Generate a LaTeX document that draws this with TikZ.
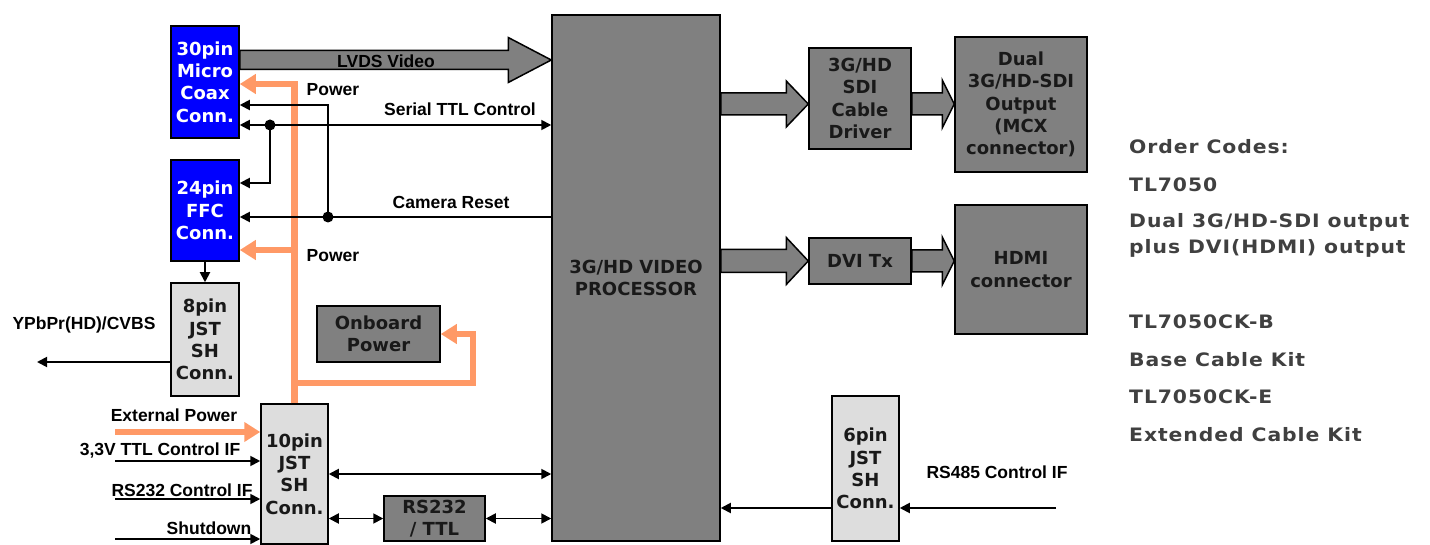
\documentclass[tikz,border=0pt]{standalone}
\usepackage{fontspec}
\setmainfont{DejaVu Sans}
\newfontfamily\labfont{Liberation Sans}
\usepackage{xcolor}
\definecolor{connblue}{HTML}{0000FF}
\definecolor{connlight}{HTML}{DDDDDD}
\definecolor{blockgrey}{HTML}{808080}
\definecolor{pwrorange}{HTML}{FF9966}
\definecolor{codegrey}{HTML}{404040}
\usepackage{tikz}
\usetikzlibrary{arrows.meta, calc, positioning}

% wide hollow arrow: from, to, body half height, head half height, head length
\newcommand{\fatarrow}[5]{%
  \draw[fat] let \p1=#1, \p2=#2 in
    (\x1,\y1+#3) -- (\x2-#5,\y1+#3) -- (\x2-#5,\y1+#4) -- (\x2,\y1)
    -- (\x2-#5,\y1-#4) -- (\x2-#5,\y1-#3) -- (\x1,\y1-#3) -- cycle;}

\begin{document}
\begin{tikzpicture}[x=1pt, y=-1pt,
    box/.style={draw=black, line width=1.5pt, inner sep=0pt, align=center,
                font=\bfseries\fontsize{18}{22.3}\selectfont},
    bluebox/.style={box, fill=connblue, text=white},
    lightbox/.style={box, fill=connlight, text=black!90},
    greybox/.style={box, fill=blockgrey, text=black!90},
    fat/.style={draw=black, line width=1.5pt, fill=blockgrey},
    sig/.style={draw=black, line width=1.8pt, -{Triangle[length=10pt,width=10pt]}},
    sigboth/.style={sig, {Triangle[length=10pt,width=10pt]}-{Triangle[length=10pt,width=10pt]}},
    pwrline/.style={draw=pwrorange, line width=6.5pt},
    pwr/.style={pwrline, -{Triangle[length=16pt,width=19pt]}},
    dot/.style={circle, fill=black, inner sep=0pt, minimum size=11pt},
    lab/.style={font=\labfont\bfseries\fontsize{17.5}{20}\selectfont},
    code/.style={anchor=west, text=codegrey, inner sep=0pt,
                 font=\bfseries\fontsize{18.5}{22}\selectfont\addfontfeature{FakeStretch=1.1, LetterSpace=5}}]
  \useasboundingbox (0,0) rectangle (1430,545);

  % connectors on the camera side
  \node[bluebox, minimum width=68pt, minimum height=112pt] (micro) at (205,82)
    {30pin\\Micro\\Coax\\Conn.};
  \node[bluebox, minimum width=68pt, minimum height=101pt] (ffc) at (205,210.5)
    {24pin\\FFC\\Conn.};
  \node[lightbox, minimum width=68pt, minimum height=113pt] (jst8) at (205,339.5)
    {8pin\\JST\\SH\\Conn.};
  \node[lightbox, minimum width=67pt, minimum height=140pt] (jst10) at (294.5,474)
    {10pin\\JST\\SH\\Conn.};
  \node[greybox, minimum width=123pt, minimum height=56pt] (onboard) at (378.5,334)
    {Onboard\\Power};
  \node[greybox, minimum width=101pt, minimum height=45pt] (rs232) at (434.5,518.5)
    {RS232\\/ TTL};

  % processor and outputs
  \node[greybox, minimum width=168pt, minimum height=526pt] (proc) at (636,278)
    {3G/HD VIDEO\\PROCESSOR};
  \node[greybox, minimum width=102pt, minimum height=101pt] (drv) at (860,98.5)
    {3G/HD\\SDI\\Cable\\Driver};
  \node[greybox, minimum width=102pt, minimum height=46pt] (dvitx) at (860,261)
    {DVI Tx};
  \node[greybox, minimum width=132pt, minimum height=135pt] (dual) at (1021,104.5)
    {Dual\\3G/HD-SDI\\Output\\(MCX\\connector)};
  \node[greybox, minimum width=132pt, minimum height=129pt] (hdmi) at (1021,269.5)
    {HDMI\\connector};
  \node[lightbox, minimum width=67pt, minimum height=145pt] (jst6) at (865.5,468.5)
    {6pin\\JST\\SH\\Conn.};

  % video paths
  \coordinate (lvds) at (0,60);
  \fatarrow{(micro.east |- lvds)}{(proc.west |- lvds)}{9.5pt}{22.5pt}{43pt}
  \node[lab] (lvdslab) at (386,61) {LVDS Video};
  \coordinate (sdirow) at (0,104);
  \fatarrow{(proc.east |- sdirow)}{(drv.west |- sdirow)}{11pt}{23pt}{22pt}
  \fatarrow{(drv.east |- sdirow)}{(dual.west |- sdirow)}{11pt}{24pt}{12pt}
  \fatarrow{(proc.east |- dvitx.west)}{(dvitx.west)}{11.5pt}{23.5pt}{22pt}
  \fatarrow{(dvitx.east)}{(dvitx.east -| hdmi.west)}{11pt}{24pt}{12pt}

  % power
  \draw[pwr] (jst10.north) |- ([yshift=-2pt]micro.east);
  \coordinate (pwffc) at (0,250);
  \draw[pwr] (jst10.north |- pwffc) -- (ffc.east |- pwffc);
  \coordinate (obp) at (473,383);
  \draw[pwr] (jst10.north |- obp) -- (obp) |- (onboard.east);
  \node[lab] (pwlab1) at (333,90) {Power};
  \node[lab] (pwlab2) at (333,256) {Power};

  % control lines
  \coordinate (ttl) at (270,125);
  \draw[sigboth] (micro.east |- ttl) -- (proc.west |- ttl);
  \draw[sig] (ttl) |- ([yshift=27.5pt]ffc.east);
  \node[dot] (ttldot) at (ttl) {};
  \node[lab] (ttllab) at (460,109) {Serial TTL Control};
  \coordinate (rst) at (328,217);
  \draw[sig] (proc.west |- rst) -- (ffc.east |- rst);
  \draw[sig] (rst) |- ([yshift=-23pt]micro.east);
  \node[dot] (rstdot) at (rst) {};
  \node[lab] (rstlab) at (451,202) {Camera Reset};

  \draw[sig] (ffc.south) -- (jst8.north);
  \coordinate (yout) at (37,362);
  \draw[sig] (jst8.west |- yout) -- (yout);
  \node[lab] (youtlab) at (84,325) {YPbPr(HD)/CVBS};

  % 10pin inputs
  \coordinate (extp) at (115,432);
  \draw[pwr] (extp) -- (extp -| jst10.west);
  \node[lab] (extlab) at (174,415) {External Power};
  \coordinate (ttlin) at (115,461);
  \draw[sig] (ttlin) -- (ttlin -| jst10.west);
  \node[lab] (ttlinlab) at (160,451) {3,3V TTL Control IF};
  \coordinate (rsin) at (115,499);
  \draw[sig] (rsin) -- (rsin -| jst10.west);
  \node[lab] (rsinlab) at (182,490) {RS232 Control IF};
  \coordinate (sdin) at (115,539);
  \draw[sig] (sdin) -- (sdin -| jst10.west);
  \node[lab] (sdinlab) at (209,528) {Shutdown};

  \draw[sigboth] (jst10.east) -- (jst10.east -| proc.west);
  \draw[sigboth] (rs232.west -| jst10.east) -- (rs232.west);
  \draw[sigboth] (rs232.east) -- (rs232.east -| proc.west);

  % RS485
  \coordinate (rs485) at (1056,508);
  \draw[sig] (rs485) -- (rs485 -| jst6.east);
  \draw[sig] (jst6.west |- rs485) -- (rs485 -| proc.east);
  \node[lab] (rs485lab) at (997,472) {RS485 Control IF};

  % order codes
  \node[code] (oc1) at (1129,147) {Order Codes:};
  \node[code] (oc2) at (1129,185) {TL7050};
  \node[code] (oc3) at (1129,222) {Dual 3G/HD-SDI output};
  \node[code] (oc4) at (1129,248) {plus DVI(HDMI) output};
  \node[code] (oc5) at (1129,322) {TL7050CK-B};
  \node[code] (oc6) at (1129,360) {Base Cable Kit};
  \node[code] (oc7) at (1129,397) {TL7050CK-E};
  \node[code] (oc8) at (1129,435) {Extended Cable Kit};
\end{tikzpicture}
\end{document}
